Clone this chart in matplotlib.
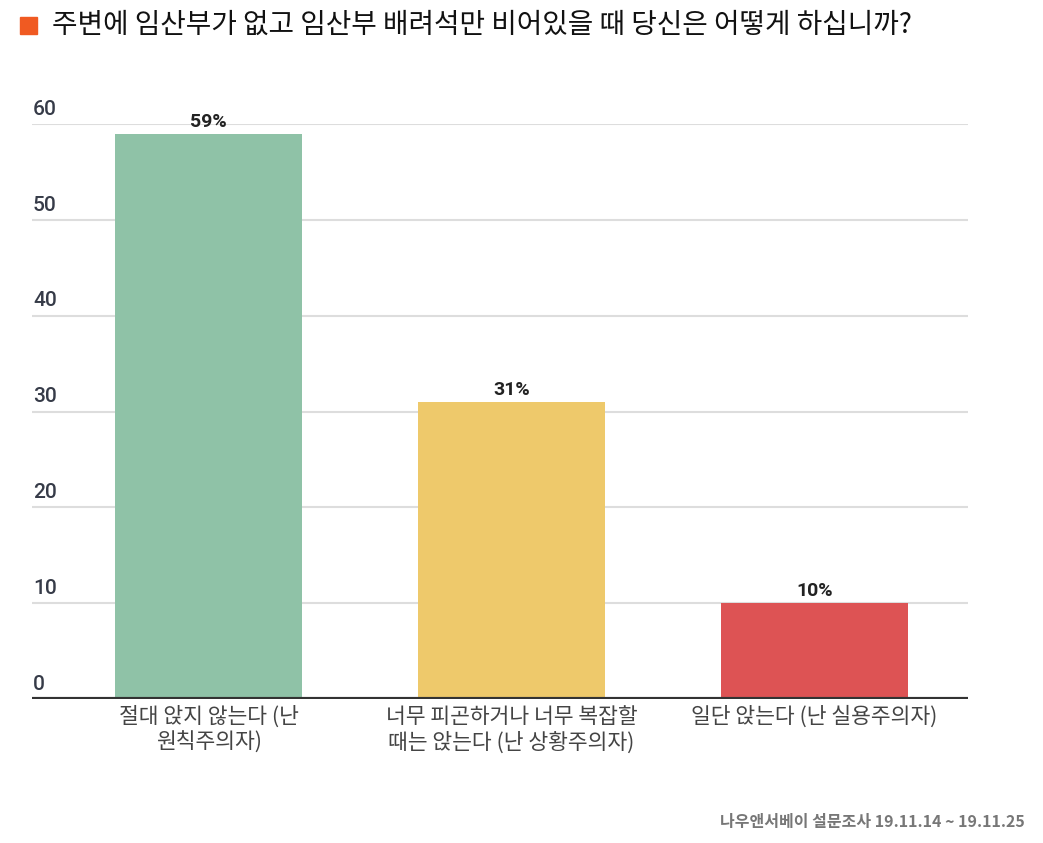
import matplotlib
matplotlib.use("Agg")
import matplotlib.pyplot as plt
from matplotlib.patches import Rectangle

plt.rcParams['font.family'] = ['Noto Sans CJK KR', 'DejaVu Sans']

title = "주변에 임산부가 없고 임산부 배려석만 비어있을 때 당신은 어떻게 하십니까?"
categories = ["절대 앉지 않는다 (난\n원칙주의자)",
              "너무 피곤하거나 너무 복잡할\n때는 앉는다 (난 상황주의자)",
              "일단 앉는다 (난 실용주의자)"]
values = [59, 31, 10]
colors = ["#8FC2A7", "#EEC96B", "#DD5354"]
yticks = [0, 10, 20, 30, 40, 50, 60]
footer = "나우앤서베이 설문조사 19.11.14 ~ 19.11.25"

fig = plt.figure(figsize=(10.43, 8.43), dpi=100)
ax = fig.add_axes([32/1043, 1-699/843, (968-32)/1043, (699-124)/843])

x = list(range(len(categories)))
ax.bar(x, values, width=0.617, color=colors, zorder=3)
ax.set_xlim(-0.583, 2.507)
ax.set_ylim(0, 60)

for t in yticks[1:]:
    ax.axhline(t, color="#DDDDDD", lw=1.5, zorder=1)
ax.axhline(0, color="#333333", lw=3, zorder=4)

for t in yticks:
    ax.text(0.001, t + 0.55, str(t), transform=ax.get_yaxis_transform(),
            ha="left", va="bottom", fontsize=15, color="#363b48",
            fontweight="medium", family=['Roboto', 'DejaVu Sans'])

for xi, v in zip(x, values):
    ax.text(xi, v + 0.3, f"{v}%", ha="center", va="bottom", fontsize=14,
            fontweight="bold", color="#222222", family=['Roboto', 'DejaVu Sans'])

ax.set_xticks(x)
ax.set_xticklabels(categories, fontsize=15.5, color="#444444", linespacing=1.2)
ax.tick_params(axis="x", length=0, pad=5)
ax.set_yticks([])
for s in ax.spines.values():
    s.set_visible(False)

fig.patches.append(Rectangle((20/1043, 1-34/843), 17/1043, 17/843,
                             transform=fig.transFigure, color="#F05A22"))
fig.text(52/1043, 1-25/843, title, ha="left", va="center", fontsize=20, color="#111111")
fig.text(1025/1043, 1-822/843, footer, ha="right", va="center", fontsize=11.5,
         fontweight="bold", color="#777777")

fig.savefig("out.png", dpi=100)
